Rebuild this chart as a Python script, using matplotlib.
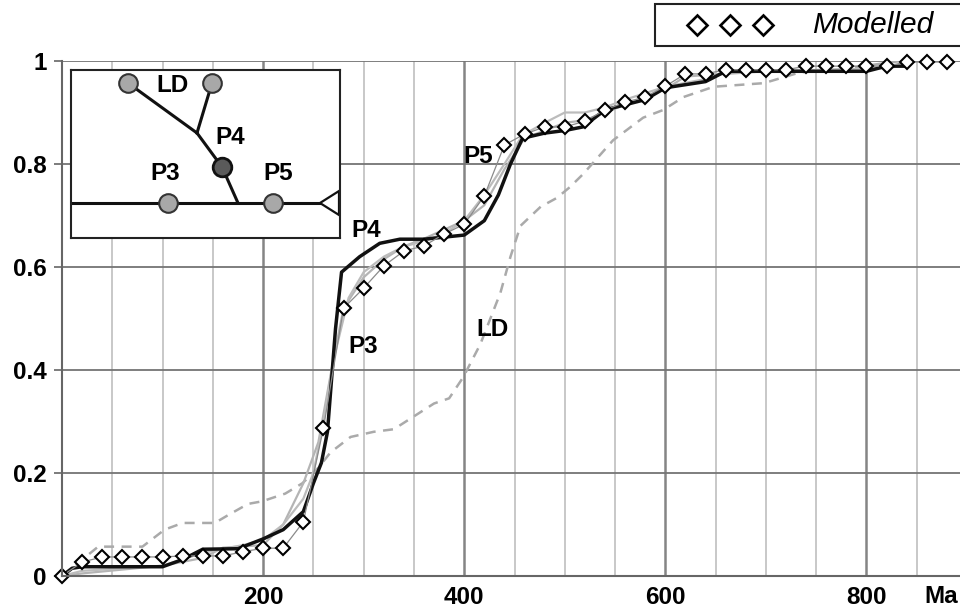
import numpy as np
import matplotlib
matplotlib.use('Agg')
import matplotlib.pyplot as plt
from matplotlib.patches import Rectangle, Polygon

plt.rcParams['font.family'] = ['Liberation Sans', 'DejaVu Sans']

# modelled cumulative curve, one diamond every 20 Ma
model_x = np.arange(0, 900, 20)
model_y = [0, 0.027, 0.037, 0.037, 0.037, 0.037, 0.039, 0.039, 0.039, 0.047,
           0.054, 0.054, 0.105, 0.287, 0.52, 0.559, 0.602, 0.631, 0.641, 0.664,
           0.683, 0.738, 0.837, 0.858, 0.872, 0.872, 0.883, 0.905, 0.92, 0.93,
           0.951, 0.975, 0.975, 0.983, 0.983, 0.983, 0.983, 0.99, 0.99, 0.99,
           0.99, 0.99, 0.998, 0.998, 0.998]

# P4 (black)
p4_x = [0, 10, 20, 100, 120, 140, 175, 200, 220, 240, 250, 258, 264, 268, 272,
        278, 296, 316, 336, 360, 400, 420, 434, 446, 458, 480, 500, 518, 540,
        560, 580, 600, 640, 660, 800, 820, 840]
p4_y = [0, 0.015, 0.018, 0.018, 0.032, 0.052, 0.053, 0.072, 0.09, 0.125, 0.18,
        0.22, 0.28, 0.38, 0.48, 0.59, 0.62, 0.646, 0.654, 0.654, 0.662, 0.69,
        0.74, 0.80, 0.85, 0.86, 0.865, 0.872, 0.905, 0.915, 0.925, 0.948, 0.96,
        0.98, 0.98, 0.99, 0.99]

# P3 (grey)
p3_x = [0, 20, 100, 140, 160, 200, 220, 240, 255, 268, 280, 300, 320, 340, 360,
        400, 420, 440, 460, 480, 500, 520, 540, 560, 600, 620, 660, 700, 800, 840]
p3_y = [0, 0.005, 0.02, 0.035, 0.055, 0.06, 0.10, 0.18, 0.26, 0.40, 0.52, 0.58,
        0.615, 0.64, 0.655, 0.69, 0.72, 0.79, 0.85, 0.865, 0.88, 0.885, 0.90,
        0.915, 0.945, 0.97, 0.975, 0.98, 0.985, 0.99]

# P5 (grey)
p5_x = [0, 20, 60, 100, 140, 180, 200, 220, 240, 250, 260, 270, 285, 300, 320,
        340, 360, 380, 400, 420, 440, 458, 480, 500, 520, 540, 560, 600, 640,
        660, 700, 800, 840]
p5_y = [0, 0.01, 0.015, 0.02, 0.045, 0.06, 0.07, 0.10, 0.15, 0.20, 0.30, 0.42,
        0.54, 0.59, 0.62, 0.64, 0.65, 0.665, 0.69, 0.74, 0.80, 0.856, 0.88, 0.90,
        0.90, 0.91, 0.925, 0.95, 0.965, 0.98, 0.98, 0.985, 0.99]

# LD (grey dashed)
ld_x = [0, 36, 80, 102, 120, 152, 165, 185, 199, 222, 239, 255, 267, 287, 310,
        330, 350, 370, 385, 399, 416, 436, 446, 456, 476, 492, 505, 518, 548,
        578, 598, 618, 648, 698, 734, 767, 834]
ld_y = [0, 0.057, 0.057, 0.09, 0.103, 0.103, 0.118, 0.14, 0.145, 0.16, 0.18,
        0.21, 0.24, 0.27, 0.28, 0.285, 0.31, 0.335, 0.345, 0.386, 0.45, 0.55,
        0.62, 0.68, 0.717, 0.734, 0.755, 0.78, 0.846, 0.89, 0.905, 0.93, 0.95,
        0.957, 0.978, 0.982, 1.0]

y_ticks = [0, 0.2, 0.4, 0.6, 0.8, 1]
y_labels = ['0', '0.2', '0.4', '0.6', '0.8', '1']
x_ticks = [200, 400, 600, 800]

fig = plt.figure(figsize=(9.6, 6.13), dpi=100)
ax = fig.add_axes([62 / 960, 37 / 613, 905 / 960, 515 / 613])
ax.set_xlim(0, 900)
ax.set_ylim(0, 1)
ax.set_axisbelow(True)

ax.set_xticks(x_ticks)
ax.set_xticks(np.arange(50, 900, 50), minor=True)
ax.set_yticks(y_ticks)
ax.set_yticklabels(y_labels)
ax.grid(which='minor', axis='x', color='#c4c4c4', lw=1.3)
ax.grid(which='major', axis='x', color='#858585', lw=1.8)
ax.grid(which='major', axis='y', color='#747474', lw=1.3)
ax.tick_params(axis='x', which='both', length=0, pad=7, labelsize=17.5)
ax.tick_params(axis='y', length=6, width=1.2, color='#666666', pad=5, labelsize=17.5)
for lbl in ax.get_xticklabels() + ax.get_yticklabels():
    lbl.set_fontweight('bold')
for s in ['top', 'right']:
    ax.spines[s].set_visible(False)
for s in ['left', 'bottom']:
    ax.spines[s].set_color('#666666')
    ax.spines[s].set_linewidth(1.5)

ax.text(874, -0.017, 'Ma', transform=ax.get_xaxis_transform(), ha='center',
        va='top', fontsize=17.5, fontweight='bold')

ax.plot(ld_x, ld_y, color='#aaaaaa', lw=1.8, dashes=(4, 3))
ax.plot(p3_x, p3_y, color='#b4b4b4', lw=1.6)
ax.plot(p5_x, p5_y, color='#bcbcbc', lw=1.6)
ax.plot(p4_x, p4_y, color='#111111', lw=2.5)
ax.plot(model_x, model_y, color='#8a8a8a', lw=0.9, marker='D', ms=7,
        mfc='white', mec='black', mew=1.5, clip_on=False)

lab = dict(fontsize=17.5, fontweight='bold', ha='center', va='center')
ax.text(303, 0.67, 'P4', **lab)
ax.text(414, 0.814, 'P5', **lab)
ax.text(300, 0.445, 'P3', **lab)
ax.text(428, 0.478, 'LD', **lab)

# inset river network, drawn in pixel units
iax = fig.add_axes([71 / 960, (613 - 238) / 613, 269 / 960, 168 / 613])
iax.set_xlim(71, 340)
iax.set_ylim(238, 70)
iax.set_xticks([])
iax.set_yticks([])
iax.set_facecolor('white')
for s in iax.spines.values():
    s.set_color('#222222')
    s.set_linewidth(1.5)
iax.plot([128, 197], [83, 133], color='#111111', lw=2.2)
iax.plot([212, 197], [83, 133], color='#111111', lw=2.2)
iax.plot([197, 222, 238], [133, 167, 203], color='#111111', lw=2.2)
iax.plot([71, 320], [203, 203], color='#111111', lw=2.2)
iax.add_patch(Polygon([(320, 203), (339, 191), (339, 215)], closed=True,
                      fc='white', ec='#111111', lw=1.6))
iax.scatter([128, 212, 168, 273], [83, 83, 203, 203], s=180, c='#a8a8a8',
            edgecolors='#333333', linewidths=1.5, zorder=3)
iax.scatter([222], [167], s=180, c='#5a5a5a', edgecolors='#111111',
            linewidths=2, zorder=3)
iax.text(172, 85, 'LD', **lab)
iax.text(230, 138, 'P4', **lab)
iax.text(165, 173, 'P3', **lab)
iax.text(278, 173, 'P5', **lab)

# legend box, partly running off the right edge
lax = fig.add_axes([0, 0, 1, 1], facecolor='none')
lax.set_xlim(0, 960)
lax.set_ylim(613, 0)
lax.axis('off')
lax.add_patch(Rectangle((655, 4), 320, 42, fc='white', ec='#222222', lw=1.5))
lax.plot([697, 730, 763], [25, 25, 25], ls='none', marker='D', ms=10.5,
         mfc='white', mec='black', mew=1.9)
lax.text(812, 25, 'Modelled', fontsize=21.5, fontstyle='italic', ha='left',
         va='center')

fig.savefig('out.png', dpi=100)
